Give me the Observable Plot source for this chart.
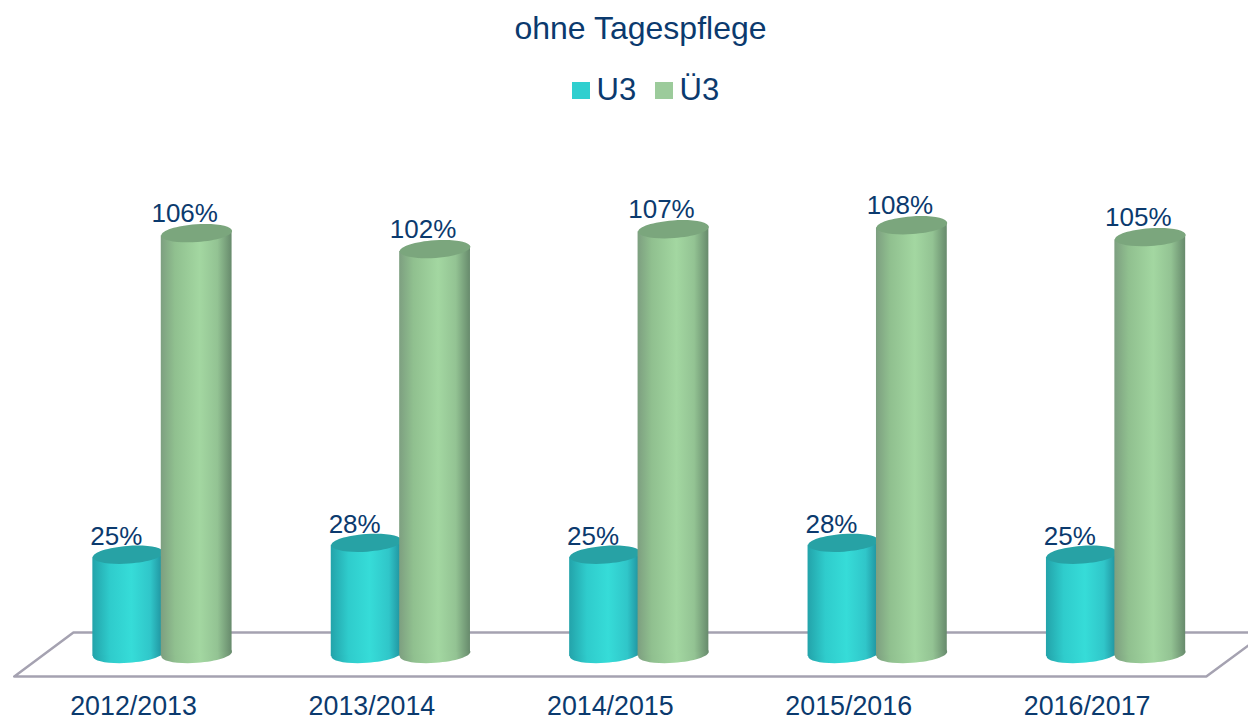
<!DOCTYPE html>
<html>
<head>
<meta charset="utf-8">
<script src="https://cdn.jsdelivr.net/npm/d3@7"></script>
<script src="https://cdn.jsdelivr.net/npm/@observablehq/plot@0.6"></script>
<style>
  html, body { margin: 0; padding: 0; background: #fff; overflow: hidden; }
  #page { position: relative; width: 1248px; height: 720px; font-family: "Liberation Sans", Arial, sans-serif; color: #0b3a6e; }
  #head { position: relative; height: 120px; }
  #title { position: absolute; left: 0; width: 1281px; top: 11px; text-align: center; font-size: 32px; line-height: 34px; }
  .sw { position: absolute; top: 82px; width: 18px; height: 17px; }
  .lb { position: absolute; top: 72px; font-size: 31px; line-height: 36px; }
  #chart { position: absolute; left: 0; top: 120px; }
</style>
</head>
<body>
<div id="page">
  <div id="head">
    <div id="title">ohne Tagespflege</div>
    <div class="sw" style="left:572px;background:#2fcfcf"></div><div class="lb" style="left:596.5px">U3</div>
    <div class="sw" style="left:655px;background:#9ccb9b"></div><div class="lb" style="left:679.5px">Ü3</div>
  </div>
  <div id="chart"></div>
</div>
<script>
const categories = ["2012/2013", "2013/2014", "2014/2015", "2015/2016", "2016/2017"];
const u3 = [25, 28, 25, 28, 25];
const ue3 = [106, 102, 107, 108, 105];
const floorX = [0, 5, 5.25, 0.248, 0];
const floorY = [-5.67, -5.67, 5.42, 5.42, -5.67];

const rows = categories.flatMap((c, i) => [
  {cat: c, series: "U3", center: i + 0.478, value: u3[i]},
  {cat: c, series: "Ü3", center: i + 0.765, value: ue3[i]}
]);
const halfBar = 0.1485;
const tilt = -4 * Math.PI / 180;

const ellipse = {
  draw(ctx, size) {
    const a = Math.sqrt(size / Math.PI), b = a * 0.25, k = 0.5523;
    const c = Math.cos(tilt), s = Math.sin(tilt);
    const P = (x, y) => [x * c - y * s, x * s + y * c];
    const seg = (p1, p2, p3) => ctx.bezierCurveTo(...P(...p1), ...P(...p2), ...P(...p3));
    ctx.moveTo(...P(a, 0));
    seg([a, k * b], [k * a, b], [0, b]);
    seg([-k * a, b], [-a, k * b], [-a, 0]);
    seg([-a, -k * b], [-k * a, -b], [0, -b]);
    seg([k * a, -b], [a, -k * b], [a, 0]);
    ctx.closePath();
  }
};

function gradient(defs, id, stops) {
  const g = defs.append("linearGradient").attr("id", id).attr("x1", 0).attr("x2", 1).attr("y1", 0).attr("y2", 0);
  stops.forEach(([o, col]) => g.append("stop").attr("offset", o).attr("stop-color", col));
}
const defsMark = () => {
  const defs = d3.create("svg:defs");
  gradient(defs, "gU3", [[0, "#23a3aa"], [0.25, "#2fcccc"], [0.55, "#36dcd8"], [0.82, "#30c6c9"], [1, "#1f8f9c"]]);
  gradient(defs, "gUe3", [[0, "#7d9f80"], [0.2, "#90c08f"], [0.55, "#a3d7a1"], [0.8, "#93c393"], [1, "#678a6c"]]);
  return defs.node();
};

const skew = (index, scales, values, dims, context, next) => {
  const g = next(index, scales, values, dims, context);
  d3.select(g).selectAll("rect").attr("transform", function () {
    const cx = +this.getAttribute("x") + +this.getAttribute("width") / 2;
    return `translate(${cx} 0) skewY(${tilt * 180 / Math.PI}) translate(${-cx} 0)`;
  });
  return g;
};

const cylinder = (data, bodyFill, capFill) => [
  Plot.dot(data, {x: "center", y: 0, r: 35.4, symbol: ellipse, fill: bodyFill}),
  Plot.rectY(data, {x1: d => d.center - halfBar, x2: d => d.center + halfBar, y1: 0, y2: "value", fill: bodyFill, render: skew}),
  Plot.dot(data, {x: "center", y: "value", r: 35.4, symbol: ellipse, fill: capFill})
];

const labels = (data, dy) => Plot.text(data, {x: "center", y: "value", text: d => d.value + "%", dx: -12, dy, lineAnchor: "bottom", fontSize: 26, fill: "#0b3a6e"});

const rowsU3 = rows.filter(d => d.series === "U3");
const rowsUe3 = rows.filter(d => d.series === "Ü3");

const chart = Plot.plot({
  width: 1248,
  height: 600,
  marginLeft: 13.8,
  marginRight: 42.2,
  marginTop: 0,
  marginBottom: 24,
  x: {domain: [0, 5], axis: null},
  y: {domain: [0, 100], range: [533.5, 136.5], axis: null},
  style: {background: "transparent", color: "#0b3a6e", fontFamily: "Liberation Sans, Arial, sans-serif", overflow: "hidden"},
  marks: [
    defsMark,
    Plot.line(floorX.map((x, i) => ({x, y: floorY[i]})), {x: "x", y: "y", stroke: "#a5a2b1", strokeWidth: 2.5, strokeLinejoin: "miter"}),
    ...cylinder(rowsU3, "url(#gU3)", "#27a2a5"),
    ...cylinder(rowsUe3, "url(#gUe3)", "#7ba67d"),
    labels(rowsU3, -9.5),
    labels(rowsUe3, -11),
    Plot.axisX({
      ticks: categories.map((c, i) => i + 0.5),
      tickFormat: d => categories[Math.floor(d)],
      tickSize: 0,
      tickPadding: -1,
      fontSize: 26.8,
      label: null,
      fill: "#0b3a6e"
    })
  ]
});
document.getElementById("chart").appendChild(chart);
</script>
</body>
</html>
